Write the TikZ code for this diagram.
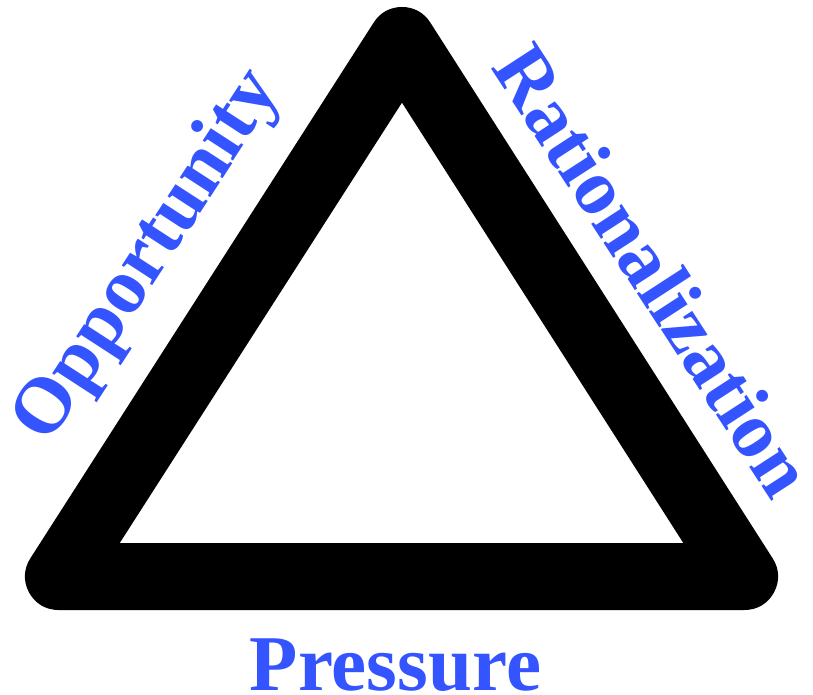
\documentclass[tikz,border=0pt]{standalone}
\usepackage{fontspec}
\setmainfont{Liberation Serif}
\definecolor{sideblue}{RGB}{52,84,255}
\begin{document}
\begin{tikzpicture}[x=1pt, y=-1pt, every node/.style={font=\bfseries\fontsize{79}{80}\selectfont, text=sideblue, inner sep=0pt}]
  \useasboundingbox (0,0) rectangle (813,695);
  \coordinate (apex) at (402,40.5);
  \coordinate (lft) at (58.5,576.5);
  \coordinate (rgt) at (744.5,576.5);
  \draw[line width=67pt, line join=round] (apex) -- (lft) -- (rgt) -- cycle;
  \node[rotate=57] (opp) at (149,257) {Opportunity};
  \node[rotate=-57] (rat) at (654,270) {Rationalization};
  \node[anchor=base] (pre) at (395.5,690) {Pressure};
\end{tikzpicture}
\end{document}
